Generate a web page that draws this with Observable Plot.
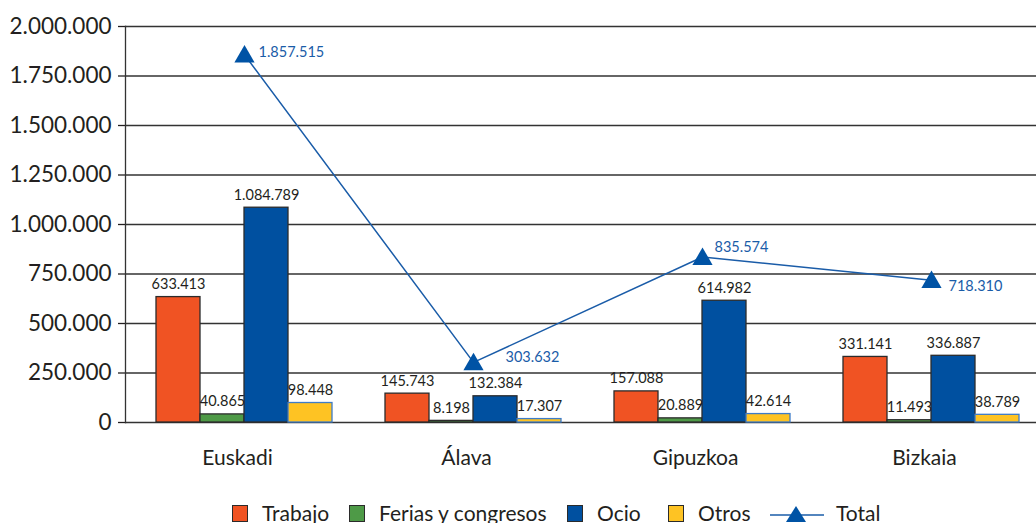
<!DOCTYPE html>
<html><head><meta charset="utf-8">
<script src="https://cdn.jsdelivr.net/npm/d3@7"></script>
<script src="https://cdn.jsdelivr.net/npm/@observablehq/plot@0.6"></script>
<style>
html,body{margin:0;padding:0;background:#fff;overflow:hidden;font-family:Lato,"Open Sans",sans-serif;color:#231f20;}
#wrap{position:relative;width:1036px;height:480px;}
#wrap svg{position:absolute;left:0;top:0;}
#legend{position:absolute;left:0;top:501px;width:1036px;height:24px;font-size:21px;line-height:24px;}
.sw{width:14px;height:15px;border:1.3px solid #2b2b2b;display:inline-block;margin-right:14px;}
.it{position:absolute;top:0;display:flex;align-items:center;white-space:nowrap;}
</style></head><body>
<div id="wrap"></div>
<div id="legend"></div>
<script>
const regions = ["Euskadi", "Álava", "Gipuzkoa", "Bizkaia"];
const series = ["Trabajo", "Ferias y congresos", "Ocio", "Otros"];
const trabajo = [633413, 145743, 157088, 331141];
const ferias = [40865, 8198, 20889, 11493];
const ocio = [1084789, 132384, 614982, 336887];
const otros = [98448, 17307, 42614, 38789];
const total = [1857515, 303632, 835574, 718310];
const yTicks = [0, 250000, 500000, 750000, 1000000, 1250000, 1500000, 1750000, 2000000];
const colors = ["#f05323", "#4e9a47", "#0050a0", "#fec323"];

const fmt = d3.formatLocale({decimal: ",", thousands: ".", grouping: [3], currency: ["", "€"]}).format(",d");
const seriesValues = [trabajo, ferias, ocio, otros];
const barData = regions.flatMap((r, i) => series.map((s, j) => ({region: r, series: s, value: seriesValues[j][i]})));
const totalData = regions.map((r, i) => ({region: r, value: total[i]}));

const W = 1036, H = 480, MT = 26, MB = 58, ML = 125, MR = -14;
const PI = 0.224, PO = 0.129;
const common = {
  width: W, height: H, marginTop: MT, marginBottom: MB, marginLeft: ML, marginRight: MR,
  style: {background: "transparent", fontFamily: "Lato, sans-serif", maxWidth: "none", color: "#231f20"},
  y: {domain: [0, 2000000], axis: null}
};

const totText = (region, dx, dy) => Plot.text(totalData, {
  x: "region", y: "value", text: d => fmt(d.value), filter: d => d.region === region,
  dx, dy, textAnchor: "start", fill: "#1a5ca8", fontSize: 14.5
});

const base = Plot.plot({
  ...common,
  x: {domain: regions, type: "band", paddingInner: PI, paddingOuter: PO, axis: null},
  marks: [
    Plot.ruleY(yTicks, {stroke: "#333", strokeWidth: 1.3}),
    Plot.axisY({ticks: yTicks, tickFormat: fmt, tickSize: 7, tickPadding: 7, fontSize: 22.5, label: null, strokeWidth: 1.3}),
    Plot.frame({anchor: "left", stroke: "#333", strokeWidth: 1.3}),
    Plot.line(totalData, {x: "region", y: "value", stroke: "#1a5ca8", strokeWidth: 1.5}),
    Plot.dot(totalData, {x: "region", y: "value", symbol: "triangle", r: 7.5, dy: 2, fill: "#0053a5", stroke: "none"}),
    totText("Euskadi", 14, -2),
    totText("Álava", 32, -5),
    totText("Gipuzkoa", 12, -10),
    totText("Bizkaia", 17, 6)
  ]
});

const bars = Plot.plot({
  ...common,
  fx: {domain: regions, paddingInner: PI, paddingOuter: PO, label: null},
  x: {domain: series, padding: 0, axis: null},
  color: {domain: series, range: colors},
  marks: [
    Plot.barY(barData, {fx: "region", x: "series", y: "value", fill: "series", stroke: "#2b2b2b", strokeWidth: 1.3, filter: d => d.series !== "Otros"}),
    Plot.barY(barData, {fx: "region", x: "series", y: "value", fill: "series", stroke: "#3d7cc9", strokeWidth: 1.3, filter: d => d.series === "Otros"}),
    Plot.text(barData, {fx: "region", x: "series", y: "value", text: d => fmt(d.value), dy: -8, lineAnchor: "bottom", fontSize: 14.5, fill: "#231f20"}),
    Plot.axisFx({anchor: "bottom", tickSize: 0, tickPadding: 28, dx: -7, fontSize: 21, label: null})
  ]
});

const wrap = document.getElementById("wrap");
wrap.appendChild(base);
wrap.appendChild(bars);

const legend = document.getElementById("legend");
const legendLeft = [232, 349, 567, 668];
series.forEach((s, j) => {
  const it = document.createElement("div");
  it.className = "it";
  it.style.left = legendLeft[j] + "px";
  const sw = document.createElement("span");
  sw.className = "sw";
  sw.style.background = colors[j];
  it.appendChild(sw);
  it.appendChild(document.createTextNode(s));
  legend.appendChild(it);
});
const tot = document.createElement("div");
tot.className = "it";
tot.style.left = "770px";
tot.innerHTML = '<svg width="54" height="20" style="margin-right:12px"><line x1="0" y1="12" x2="54" y2="12" stroke="#1a5ca8" stroke-width="1.5"/><path d="M26,3 L36,19 L16,19 Z" fill="#0053a5"/></svg>Total';
legend.appendChild(tot);
</script>
</body></html>
